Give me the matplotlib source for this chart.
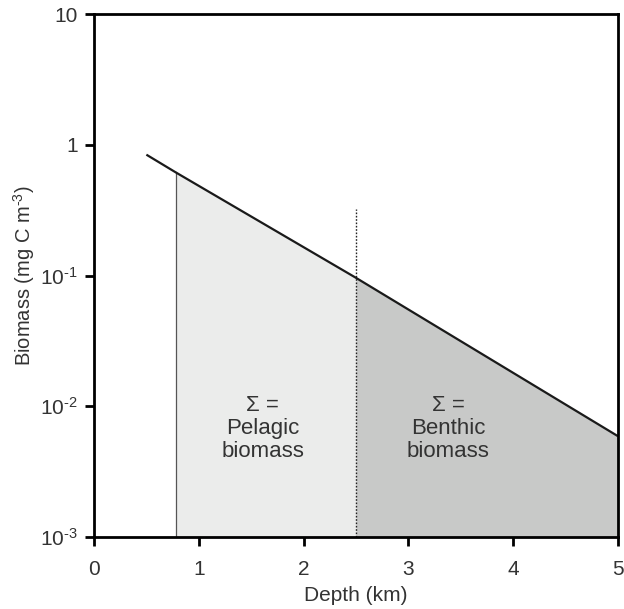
import numpy as np
import matplotlib
matplotlib.use("Agg")
import matplotlib.pyplot as plt

plt.rcParams['font.family'] = ['Liberation Sans', 'DejaVu Sans']
plt.rcParams['mathtext.fontset'] = 'custom'
plt.rcParams['mathtext.rm'] = 'Liberation Sans'
plt.rcParams['mathtext.it'] = 'Liberation Sans:italic'

# data
depth = [0.5, 0.78, 2.5, 5.0]          # km
biomass = [0.84, 0.615, 0.096, 0.0059]  # mg C m-3
pelagic_start = 0.78
benthic_start = 2.5
divider_top = 0.32
ymin, ymax = 1e-3, 10
xticks = [0, 1, 2, 3, 4, 5]
yticks = [1e-3, 1e-2, 1e-1, 1, 10]
ytick_labels = ['10$^{\\text{-}3}$', '10$^{\\text{-}2}$', '10$^{\\text{-}1}$', '1', '10']

text_col = '#333333'
light = '#ebeceb'
dark = '#c8c9c8'

fig = plt.figure(figsize=(6.24, 6.09), dpi=100)
ax = fig.add_axes([0.1506, 0.1182, 0.8398, 0.8588])

d = np.array(depth)
b = np.array(biomass)

# pelagic region
m1 = (d >= pelagic_start) & (d <= benthic_start)
ax.fill_between(d[m1], ymin, b[m1], color=light, lw=0)
# benthic region
m2 = d >= benthic_start
ax.fill_between(d[m2], ymin, b[m2], color=dark, lw=0)

ax.plot([pelagic_start, pelagic_start], [ymin, b[1]], color='#555555', lw=0.9)
ax.plot([benthic_start, benthic_start], [ymin, divider_top], color='#222222',
        lw=1.0, ls=(0, (1.2, 1.2)))
ax.plot(d, b, color='#1a1a1a', lw=1.6, solid_capstyle='butt')

ax.set_yscale('log')
ax.set_xlim(0, 5)
ax.set_ylim(ymin, ymax)
ax.set_xticks(xticks)
ax.set_xticklabels([str(t) for t in xticks])
ax.set_yticks(yticks)
ax.set_yticklabels(ytick_labels)
ax.yaxis.set_minor_locator(matplotlib.ticker.NullLocator())

for s in ax.spines.values():
    s.set_linewidth(2.0)
    s.set_color('black')
ax.tick_params(direction='out', length=6.5, width=2.0, labelsize=15,
               labelcolor=text_col)
ax.tick_params(axis='x', pad=10)
ax.tick_params(axis='y', pad=5)

ax.set_xlabel('Depth (km)', fontsize=15, color=text_col, labelpad=5)
ax.set_ylabel('Biomass (mg C m$^{\\text{-}3}$)', fontsize=14.5, color=text_col, labelpad=2)

ax.text(1.61, 0.0068, 'Σ =\nPelagic\nbiomass', ha='center', va='center',
        fontsize=16, color=text_col, linespacing=1.12)
ax.text(3.38, 0.0068, 'Σ =\nBenthic\nbiomass', ha='center', va='center',
        fontsize=16, color=text_col, linespacing=1.12)

fig.savefig('out.png', dpi=100)
